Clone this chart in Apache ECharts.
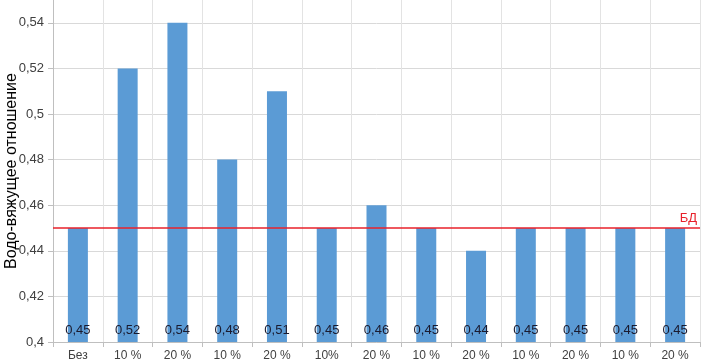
<!DOCTYPE html>
<html>
<head>
<meta charset="utf-8">
<script src="https://cdn.jsdelivr.net/npm/echarts@6/dist/echarts.min.js"></script>
<style>html,body{margin:0;padding:0;background:#fff}#c{width:710px;height:363px}</style>
</head>
<body>
<div id="c"></div>
<script>
const categories = ['Без', '10 %', '20 %', '10 %', '20 %', '10%', '20 %', '10 %', '20 %', '10 %', '20 %', '10 %', '20 %'];
const values = [0.45, 0.52, 0.54, 0.48, 0.51, 0.45, 0.46, 0.45, 0.44, 0.45, 0.45, 0.45, 0.45];
const referenceValue = 0.45;
const referenceLabel = 'БД';
const yAxisTitle = 'Водо-вяжущее отношение';

const fmt = v => String(+v.toFixed(2)).replace('.', ',');
const chart = echarts.init(document.getElementById('c'), null, {renderer: 'canvas'});
chart.setOption({
  animation: false,
  textStyle: {fontFamily: 'Liberation Sans'},
  grid: {left: 53, right: 10, top: 0, bottom: 21, containLabel: false, outerBoundsMode: 'none'},
  xAxis: {
    type: 'category',
    data: categories,
    boundaryGap: true,
    axisLine: {lineStyle: {color: '#bfbfbf'}},
    axisTick: {show: true, length: 5, lineStyle: {color: '#bfbfbf'}},
    axisLabel: {color: '#404040', fontSize: 12, margin: 8, interval: 0},
    splitLine: {show: true, lineStyle: {color: '#e3e3e3'}}
  },
  yAxis: {
    type: 'value',
    min: 0.4, max: 0.55, interval: 0.02,
    name: yAxisTitle,
    nameLocation: 'middle',
    nameGap: 33,
    nameMoveOverlap: false,
    nameTextStyle: {fontSize: 16, color: '#000'},
    axisLine: {show: true, lineStyle: {color: '#bfbfbf'}},
    axisTick: {show: true, length: 5, lineStyle: {color: '#bfbfbf'}},
    axisLabel: {color: '#404040', fontSize: 13, margin: 9, formatter: fmt, showMaxLabel: false},
    splitLine: {show: true, showMaxLine: false, lineStyle: {color: '#d9d9d9'}}
  },
  series: [{
    type: 'bar',
    data: values,
    barWidth: 20,
    itemStyle: {color: '#5b9bd5'},
    label: {
      show: true, position: 'insideBottom', distance: 5,
      color: '#1a1a2e', fontSize: 13,
      formatter: p => fmt(p.value)
    },
    markLine: {
      silent: true, symbol: 'none',
      lineStyle: {color: '#e8202a', width: 1.5, type: 'solid'},
      label: {show: true, position: 'insideEndTop', formatter: referenceLabel, color: '#e8202a', fontSize: 13, distance: 3},
      data: [{yAxis: referenceValue}]
    }
  }]
});
</script>
</body>
</html>
